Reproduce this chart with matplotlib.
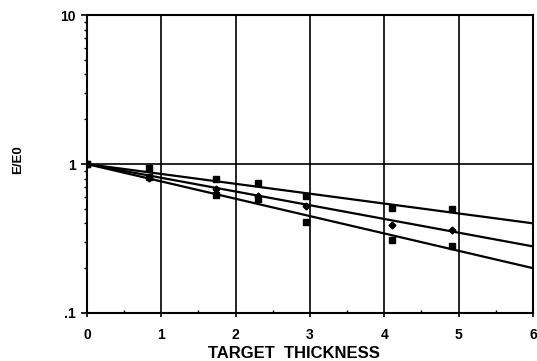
import matplotlib
matplotlib.use("Agg")
import matplotlib.pyplot as plt
from matplotlib.ticker import FixedLocator, NullFormatter

plt.rcParams['font.family'] = ['Liberation Sans', 'DejaVu Sans']

# Measured energy ratio vs target thickness, three target materials
thick_a = [0, 0.83, 1.74, 2.30, 2.95, 4.11, 4.91]
ratio_a = [1.0, 0.94, 0.79, 0.75, 0.61, 0.51, 0.50]

thick_b = [0, 0.83, 1.74, 2.30, 2.95, 4.11, 4.91]
ratio_b = [1.0, 0.81, 0.68, 0.61, 0.52, 0.39, 0.36]

thick_c = [0, 0.83, 1.74, 2.30, 2.95, 4.11, 4.91]
ratio_c = [1.0, 0.82, 0.62, 0.58, 0.41, 0.31, 0.28]

# Exponential fits (straight lines on log axis), endpoints at 0 and 6
fit_x = [0, 6]
fit_a = [1.0, 0.40]
fit_b = [1.0, 0.28]
fit_c = [1.0, 0.20]

x_ticks = [0, 1, 2, 3, 4, 5, 6]
y_ticks = [0.1, 1, 10]
y_labels = ['.1', '1', '10']

fig = plt.figure(figsize=(5.37, 3.61), dpi=100)
ax = fig.add_axes([0.162, 0.133, 0.8305, 0.825])
ax.set_yscale('log')
ax.set_xlim(0, 6)
ax.set_ylim(0.1, 10)

for xg in x_ticks[1:]:
    ax.axvline(xg, color='black', lw=1.2, zorder=1)
ax.axhline(1, color='black', lw=1.2, zorder=1)

for fy in (fit_a, fit_b, fit_c):
    ax.plot(fit_x, fy, color='black', lw=1.6, zorder=2)

ax.plot(thick_a, ratio_a, ls='none', marker='s', ms=4.5, color='black', zorder=3)
ax.plot(thick_b, ratio_b, ls='none', marker='D', ms=3.5, color='black', zorder=3)
ax.plot(thick_c, ratio_c, ls='none', marker='s', ms=4.5, color='black', zorder=3)

for s in ax.spines.values():
    s.set_linewidth(1.5)
    s.set_color('black')

ax.xaxis.set_major_locator(FixedLocator(x_ticks))
ax.xaxis.set_minor_locator(FixedLocator([0.5, 1.5, 2.5, 3.5, 4.5, 5.5]))
ax.set_xticklabels([str(v) for v in x_ticks])
ax.yaxis.set_major_locator(FixedLocator(y_ticks))
ax.set_yticklabels(y_labels)
ax.yaxis.set_minor_locator(FixedLocator([m * d for d in (0.1, 1) for m in range(2, 10)]))
ax.yaxis.set_minor_formatter(NullFormatter())

ax.tick_params(axis='x', which='major', direction='out', length=3, width=1.2,
               labelsize=10, pad=8)
ax.tick_params(axis='x', which='minor', direction='in', length=2.5, width=1.0)
ax.tick_params(axis='y', which='major', direction='out', length=4, width=1.2,
               labelsize=10, pad=4)
ax.tick_params(axis='y', which='minor', direction='out', length=2.5, width=1.0)
for lab in ax.get_xticklabels() + ax.get_yticklabels():
    lab.set_fontweight('bold')

fig.text(294 / 537, 1 - 353 / 361, 'TARGET  THICKNESS', fontsize=12,
         fontweight='bold', ha='center', va='center')
fig.text(18 / 537, 1 - 160 / 361, 'E/E0', fontsize=9.5, fontweight='bold',
         rotation=90, ha='center', va='center')

fig.savefig('out.png', dpi=100)
